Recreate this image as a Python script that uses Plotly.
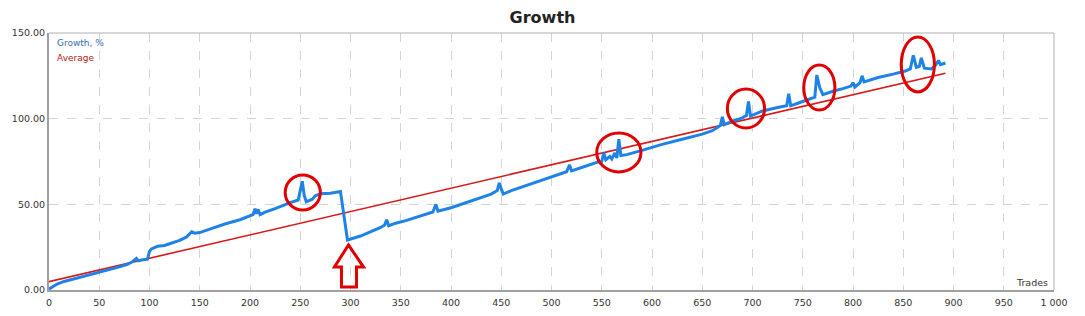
import plotly.graph_objects as go

# ---- data ----
growth_trades = [0, 3, 8, 15, 25, 35, 45, 52, 60, 70, 78, 83, 87, 89, 92, 98, 100, 102, 108, 115,
                 120, 130, 137, 142, 145, 150, 160, 175, 190, 200, 203, 205, 206, 208, 210, 215, 225,
                 240, 248, 250, 252, 254, 256, 262, 265, 270, 280, 290, 297, 310, 320, 330, 334, 336,
                 338, 345, 355, 370, 382, 385, 387, 400, 420, 440, 446, 448, 450, 452, 460, 475, 490,
                 505, 515, 518, 520, 530, 545, 550, 552, 554, 558, 560, 563, 565, 567, 569, 575, 590,
                 610, 630, 650, 660, 668, 670, 672, 680, 690, 694, 696, 698, 710, 725, 734, 736, 738,
                 745, 755, 762, 764, 767, 770, 780, 790, 798, 800, 802, 807, 809, 811, 825, 840, 852,
                 857, 860, 863, 866, 868, 871, 878, 882, 885, 887, 892]
growth_values = [0.5, 1.8, 3.5, 5, 6.5, 8, 9.5, 10.5, 12, 13.5, 15, 16.5, 18.5, 17, 17.5, 18, 22.5, 24, 25.5, 26,
                 27, 29, 31, 34, 33.2, 33.5, 35.5, 38.5, 41, 43, 44, 47.5, 44.5, 47, 44, 45.5, 47.5,
                 51, 52.5, 58, 63.5, 55, 51.5, 53, 55, 56.2, 56.5, 57.5, 29.2, 31.5, 34, 36.5, 38, 41,
                 37.5, 39, 40.5, 43.5, 45.5, 50, 46, 48, 52, 56, 58, 62.5, 59, 56, 58, 61, 64,
                 67, 69, 73, 69.5, 71.5, 74.5, 75, 80, 76, 78, 76.5, 80, 77, 88, 78.5, 79, 81.5,
                 85, 88, 91, 93, 96, 101, 96.5, 98.5, 100.5, 102, 110, 101.5, 104.5, 106.5, 107.5, 114.5, 107.5,
                 109, 111, 112.5, 125.5, 118, 114, 116, 117.5, 119, 121, 118.5, 121, 125, 121.5, 124, 126, 127.8,
                 129, 137, 130, 130.5, 135.5, 129.5, 129, 131, 134, 131.5, 132.5]
average_trades = [0, 892]
average_values = [4.9, 126.5]

x_ticks = [0, 50, 100, 150, 200, 250, 300, 350, 400, 450, 500, 550, 600, 650, 700, 750, 800, 850, 900, 950, 1000]
x_tick_text = ["0", "50", "100", "150", "200", "250", "300", "350", "400", "450", "500", "550", "600",
               "650", "700", "750", "800", "850", "900", "950", "1 000"]
y_ticks = [0, 50, 100, 150]
y_tick_text = ["0.00", "50.00", "100.00", "150.00"]

# highlight ellipses (trade range, growth range)
ellipses = [(235, 270, 46.7, 67.1), (545, 589, 68.9, 91.7), (675, 712, 94.6, 117.3),
            (751, 782, 105, 131.3), (848, 881, 115.6, 147.7)]

fig = go.Figure()
fig.add_trace(go.Scatter(x=average_trades, y=average_values, mode="lines",
                         line=dict(color="#d81818", width=1.6), showlegend=False, hoverinfo="skip"))
fig.add_trace(go.Scatter(x=growth_trades, y=growth_values, mode="lines",
                         line=dict(color="#1e82e6", width=3), showlegend=False))

shapes = []
for x0, x1, y0, y1 in ellipses:
    shapes.append(dict(type="circle", xref="x", yref="y", x0=x0, x1=x1, y0=y0, y1=y1,
                       line=dict(color="#e00000", width=3)))
# hollow up-arrow
shapes.append(dict(type="path", xref="x", yref="y",
                   path="M 291,1.75 L 291,13.4 L 284,13.4 L 298,26.3 L 313,13.4 L 306,13.4 L 306,1.75 Z",
                   line=dict(color="#e00000", width=3), fillcolor="rgba(0,0,0,0)"))
# top and right frame
shapes.append(dict(type="line", xref="paper", yref="paper", x0=0, x1=1, y0=1, y1=1,
                   line=dict(color="#b0b0b0", width=1)))
shapes.append(dict(type="line", xref="paper", yref="paper", x0=1, x1=1, y0=0, y1=1,
                   line=dict(color="#b0b0b0", width=1)))

fig.update_layout(
    width=1085, height=316, autosize=False,
    margin=dict(l=49, r=31, t=33, b=26),
    paper_bgcolor="white", plot_bgcolor="white",
    title=dict(text="<b>Growth</b>", x=0.5, xanchor="center", y=0.945, yanchor="middle",
               font=dict(family="DejaVu Sans", size=16, color="#222222")),
    font=dict(family="DejaVu Sans", size=9.5, color="#333333"),
    shapes=shapes,
    annotations=[
        dict(text="Growth, %", xref="paper", yref="paper", x=0.006, y=0.962, xanchor="left", yanchor="middle",
             showarrow=False, font=dict(size=9, color="#3a6db5")),
        dict(text="Average", xref="paper", yref="paper", x=0.006, y=0.903, xanchor="left", yanchor="middle",
             showarrow=False, font=dict(size=9, color="#c01818")),
        dict(text="Trades", xref="paper", yref="paper", x=0.996, y=0.03, xanchor="right", yanchor="middle",
             showarrow=False, font=dict(size=9.5, color="#333333")),
    ],
    xaxis=dict(range=[0, 1000], tickvals=x_ticks, ticktext=x_tick_text, showgrid=True,
               gridcolor="#d4d4d4", griddash="dash", gridwidth=1, zeroline=False,
               showline=True, linecolor="#a0a0a0", linewidth=2, ticks="", ticklen=0,
               ticklabelstandoff=3, automargin=False),
    yaxis=dict(range=[0, 150], tickvals=y_ticks, ticktext=y_tick_text, showgrid=True,
               gridcolor="#d4d4d4", griddash="dash", gridwidth=1, zeroline=False,
               showline=True, linecolor="#a0a0a0", linewidth=2, ticks="", ticklen=0,
               automargin=False),
)

fig.write_html("out.html")
